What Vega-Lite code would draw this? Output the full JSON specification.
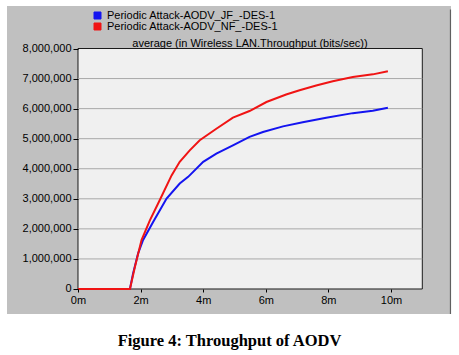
{
  "$schema": "https://vega.github.io/schema/vega-lite/v6.json",
  "width": 444,
  "height": 308,
  "autosize": {"type": "none"},
  "padding": {"left": 7, "top": 6, "right": 8, "bottom": 41},
  "background": "white",
  "config": {
    "font": "Liberation Sans",
    "view": {"stroke": null}
  },
  "title": {
    "text": "average (in Wireless LAN.Throughput (bits/sec))",
    "font": "Liberation Sans",
    "fontSize": 11,
    "fontWeight": "normal",
    "color": "black",
    "frame": "group",
    "anchor": "middle",
    "offset": -43,
    "dx": 21
  },
  "datasets": {
    "grid": [
      {"value": 1000000}, {"value": 2000000}, {"value": 3000000}, {"value": 4000000},
      {"value": 5000000}, {"value": 6000000}, {"value": 7000000}
    ],
    "series": [
      {"t": 0, "value": 0, "series": "Periodic Attack-AODV_JF_-DES-1"},
      {"t": 1.66, "value": 0, "series": "Periodic Attack-AODV_JF_-DES-1"},
      {"t": 1.76, "value": 520000, "series": "Periodic Attack-AODV_JF_-DES-1"},
      {"t": 1.92, "value": 1180000, "series": "Periodic Attack-AODV_JF_-DES-1"},
      {"t": 2.08, "value": 1630000, "series": "Periodic Attack-AODV_JF_-DES-1"},
      {"t": 2.40, "value": 2230000, "series": "Periodic Attack-AODV_JF_-DES-1"},
      {"t": 2.83, "value": 3010000, "series": "Periodic Attack-AODV_JF_-DES-1"},
      {"t": 3.25, "value": 3510000, "series": "Periodic Attack-AODV_JF_-DES-1"},
      {"t": 3.52, "value": 3730000, "series": "Periodic Attack-AODV_JF_-DES-1"},
      {"t": 4.00, "value": 4230000, "series": "Periodic Attack-AODV_JF_-DES-1"},
      {"t": 4.42, "value": 4500000, "series": "Periodic Attack-AODV_JF_-DES-1"},
      {"t": 4.95, "value": 4780000, "series": "Periodic Attack-AODV_JF_-DES-1"},
      {"t": 5.48, "value": 5060000, "series": "Periodic Attack-AODV_JF_-DES-1"},
      {"t": 5.91, "value": 5220000, "series": "Periodic Attack-AODV_JF_-DES-1"},
      {"t": 6.55, "value": 5410000, "series": "Periodic Attack-AODV_JF_-DES-1"},
      {"t": 7.18, "value": 5550000, "series": "Periodic Attack-AODV_JF_-DES-1"},
      {"t": 7.93, "value": 5700000, "series": "Periodic Attack-AODV_JF_-DES-1"},
      {"t": 8.78, "value": 5850000, "series": "Periodic Attack-AODV_JF_-DES-1"},
      {"t": 9.42, "value": 5930000, "series": "Periodic Attack-AODV_JF_-DES-1"},
      {"t": 9.90, "value": 6030000, "series": "Periodic Attack-AODV_JF_-DES-1"},
      {"t": 0, "value": 0, "series": "Periodic Attack-AODV_NF_-DES-1"},
      {"t": 1.66, "value": 0, "series": "Periodic Attack-AODV_NF_-DES-1"},
      {"t": 1.82, "value": 740000, "series": "Periodic Attack-AODV_NF_-DES-1"},
      {"t": 2.03, "value": 1630000, "series": "Periodic Attack-AODV_NF_-DES-1"},
      {"t": 2.30, "value": 2290000, "series": "Periodic Attack-AODV_NF_-DES-1"},
      {"t": 2.61, "value": 2950000, "series": "Periodic Attack-AODV_NF_-DES-1"},
      {"t": 2.99, "value": 3780000, "series": "Periodic Attack-AODV_NF_-DES-1"},
      {"t": 3.25, "value": 4230000, "series": "Periodic Attack-AODV_NF_-DES-1"},
      {"t": 3.57, "value": 4610000, "series": "Periodic Attack-AODV_NF_-DES-1"},
      {"t": 3.89, "value": 4950000, "series": "Periodic Attack-AODV_NF_-DES-1"},
      {"t": 4.42, "value": 5330000, "series": "Periodic Attack-AODV_NF_-DES-1"},
      {"t": 4.95, "value": 5700000, "series": "Periodic Attack-AODV_NF_-DES-1"},
      {"t": 5.48, "value": 5920000, "series": "Periodic Attack-AODV_NF_-DES-1"},
      {"t": 6.02, "value": 6220000, "series": "Periodic Attack-AODV_NF_-DES-1"},
      {"t": 6.65, "value": 6470000, "series": "Periodic Attack-AODV_NF_-DES-1"},
      {"t": 7.08, "value": 6610000, "series": "Periodic Attack-AODV_NF_-DES-1"},
      {"t": 7.61, "value": 6770000, "series": "Periodic Attack-AODV_NF_-DES-1"},
      {"t": 8.14, "value": 6910000, "series": "Periodic Attack-AODV_NF_-DES-1"},
      {"t": 8.78, "value": 7050000, "series": "Periodic Attack-AODV_NF_-DES-1"},
      {"t": 9.42, "value": 7140000, "series": "Periodic Attack-AODV_NF_-DES-1"},
      {"t": 9.90, "value": 7240000, "series": "Periodic Attack-AODV_NF_-DES-1"}
    ]
  },
  "layer": [
    {
      "data": {"values": [{}]},
      "mark": {"type": "rect", "fill": "#c0c0c0", "stroke": null},
      "encoding": {
        "x": {"datum": -2.268, "type": "quantitative", "scale": {"domain": [-2.268, 11.917], "nice": false, "zero": false},
          "axis": {"orient": "bottom", "offset": -25, "zindex": 2, "values": [0, 2, 4, 6, 8, 10], "labelExpr": "datum.value + 'm'", "domain": false, "grid": false, "tickSize": 3, "tickColor": "black", "labelPadding": 2, "labelFontSize": 11, "labelColor": "black", "labelFont": "Liberation Sans", "title": "Figure 4:  Throughput of AODV", "titleFont": "Liberation Serif", "titleFontWeight": "bold", "titleFontSize": 16.5, "titleColor": "black", "titleBaseline": "alphabetic", "titleY": 56}},
        "x2": {"datum": 11.917},
        "y": {"datum": -832000, "type": "quantitative", "scale": {"domain": [-832000, 9414000], "nice": false, "zero": false},
          "axis": {"orient": "left", "offset": -71, "zindex": 2, "values": [0, 1000000, 2000000, 3000000, 4000000, 5000000, 6000000, 7000000, 8000000], "labelExpr": "format(datum.value, ',')", "labelOverlap": false, "domain": false, "grid": false, "tickSize": 5, "tickColor": "black", "labelPadding": 2, "labelFontSize": 11, "labelColor": "black", "labelFont": "Liberation Sans", "title": null}},
        "y2": {"datum": 9414000}
      }
    },
    {
      "data": {"values": [{}]},
      "mark": {"type": "rule", "color": "#606060", "strokeWidth": 1.2},
      "encoding": {
        "x": {"datum": 11.9, "type": "quantitative", "scale": {"domain": [-2.268, 11.917], "nice": false, "zero": false},
          "axis": {"orient": "bottom", "offset": -25, "zindex": 2, "values": [0, 2, 4, 6, 8, 10], "labelExpr": "datum.value + 'm'", "domain": false, "grid": false, "tickSize": 3, "tickColor": "black", "labelPadding": 2, "labelFontSize": 11, "labelColor": "black", "labelFont": "Liberation Sans", "title": "Figure 4:  Throughput of AODV", "titleFont": "Liberation Serif", "titleFontWeight": "bold", "titleFontSize": 16.5, "titleColor": "black", "titleBaseline": "alphabetic", "titleY": 56}},
        "y": {"datum": -832000, "type": "quantitative", "scale": {"domain": [-832000, 9414000], "nice": false, "zero": false},
          "axis": {"orient": "left", "offset": -71, "zindex": 2, "values": [0, 1000000, 2000000, 3000000, 4000000, 5000000, 6000000, 7000000, 8000000], "labelExpr": "format(datum.value, ',')", "labelOverlap": false, "domain": false, "grid": false, "tickSize": 5, "tickColor": "black", "labelPadding": 2, "labelFontSize": 11, "labelColor": "black", "labelFont": "Liberation Sans", "title": null}},
        "y2": {"datum": 9300000}
      }
    },
    {
      "data": {"values": [{}]},
      "mark": {"type": "rect", "fill": "#f0f0f0", "stroke": "#1a1a1a", "strokeWidth": 1},
      "encoding": {
        "x": {"datum": 0, "type": "quantitative", "scale": {"domain": [-2.268, 11.917], "nice": false, "zero": false},
          "axis": {"orient": "bottom", "offset": -25, "zindex": 2, "values": [0, 2, 4, 6, 8, 10], "labelExpr": "datum.value + 'm'", "domain": false, "grid": false, "tickSize": 3, "tickColor": "black", "labelPadding": 2, "labelFontSize": 11, "labelColor": "black", "labelFont": "Liberation Sans", "title": "Figure 4:  Throughput of AODV", "titleFont": "Liberation Serif", "titleFontWeight": "bold", "titleFontSize": 16.5, "titleColor": "black", "titleBaseline": "alphabetic", "titleY": 56}},
        "x2": {"datum": 11},
        "y": {"datum": 0, "type": "quantitative", "scale": {"domain": [-832000, 9414000], "nice": false, "zero": false},
          "axis": {"orient": "left", "offset": -71, "zindex": 2, "values": [0, 1000000, 2000000, 3000000, 4000000, 5000000, 6000000, 7000000, 8000000], "labelExpr": "format(datum.value, ',')", "labelOverlap": false, "domain": false, "grid": false, "tickSize": 5, "tickColor": "black", "labelPadding": 2, "labelFontSize": 11, "labelColor": "black", "labelFont": "Liberation Sans", "title": null}},
        "y2": {"datum": 8000000}
      }
    },
    {
      "data": {"name": "grid"},
      "mark": {"type": "rule", "color": "#a8a8a8", "strokeWidth": 1},
      "encoding": {
        "y": {"field": "value", "type": "quantitative", "scale": {"domain": [-832000, 9414000], "nice": false, "zero": false},
          "axis": {"orient": "left", "offset": -71, "zindex": 2, "values": [0, 1000000, 2000000, 3000000, 4000000, 5000000, 6000000, 7000000, 8000000], "labelExpr": "format(datum.value, ',')", "labelOverlap": false, "domain": false, "grid": false, "tickSize": 5, "tickColor": "black", "labelPadding": 2, "labelFontSize": 11, "labelColor": "black", "labelFont": "Liberation Sans", "title": null}},
        "x": {"datum": 0, "type": "quantitative", "scale": {"domain": [-2.268, 11.917], "nice": false, "zero": false},
          "axis": {"orient": "bottom", "offset": -25, "zindex": 2, "values": [0, 2, 4, 6, 8, 10], "labelExpr": "datum.value + 'm'", "domain": false, "grid": false, "tickSize": 3, "tickColor": "black", "labelPadding": 2, "labelFontSize": 11, "labelColor": "black", "labelFont": "Liberation Sans", "title": "Figure 4:  Throughput of AODV", "titleFont": "Liberation Serif", "titleFontWeight": "bold", "titleFontSize": 16.5, "titleColor": "black", "titleBaseline": "alphabetic", "titleY": 56}},
        "x2": {"datum": 11}
      }
    },
    {
      "data": {"name": "series"},
      "mark": {"type": "line", "strokeWidth": 2},
      "encoding": {
        "x": {
          "field": "t", "type": "quantitative",
          "scale": {"domain": [-2.268, 11.917], "nice": false, "zero": false},
          "axis": {"orient": "bottom", "offset": -25, "zindex": 2, "values": [0, 2, 4, 6, 8, 10], "labelExpr": "datum.value + 'm'", "domain": false, "grid": false, "tickSize": 3, "tickColor": "black", "labelPadding": 2, "labelFontSize": 11, "labelColor": "black", "labelFont": "Liberation Sans", "title": "Figure 4:  Throughput of AODV", "titleFont": "Liberation Serif", "titleFontWeight": "bold", "titleFontSize": 16.5, "titleColor": "black", "titleBaseline": "alphabetic", "titleY": 56}
        },
        "y": {
          "field": "value", "type": "quantitative",
          "scale": {"domain": [-832000, 9414000], "nice": false, "zero": false},
          "axis": {"orient": "left", "offset": -71, "zindex": 2, "values": [0, 1000000, 2000000, 3000000, 4000000, 5000000, 6000000, 7000000, 8000000], "labelExpr": "format(datum.value, ',')", "labelOverlap": false, "domain": false, "grid": false, "tickSize": 5, "tickColor": "black", "labelPadding": 2, "labelFontSize": 11, "labelColor": "black", "labelFont": "Liberation Sans", "title": null}
        },
        "color": {
          "field": "series", "type": "nominal",
          "scale": {"domain": ["Periodic Attack-AODV_JF_-DES-1", "Periodic Attack-AODV_NF_-DES-1"], "range": ["#1414f0", "#f01414"]},
          "legend": {
            "orient": "none", "legendX": 85, "legendY": 4, "title": null,
            "symbolType": "square", "symbolSize": 49, "symbolStrokeWidth": 1,
            "labelFontSize": 11, "labelColor": "black", "labelFont": "Liberation Sans",
            "labelOffset": 4, "rowPadding": -2, "labelLimit": 0,
            "encode": {
              "symbols": {
                "update": {
                  "fill": {"field": "value", "scale": "color"},
                  "fillOpacity": {"value": 1},
                  "stroke": {"value": "black"}
                }
              }
            }
          }
        }
      }
    }
  ]
}
